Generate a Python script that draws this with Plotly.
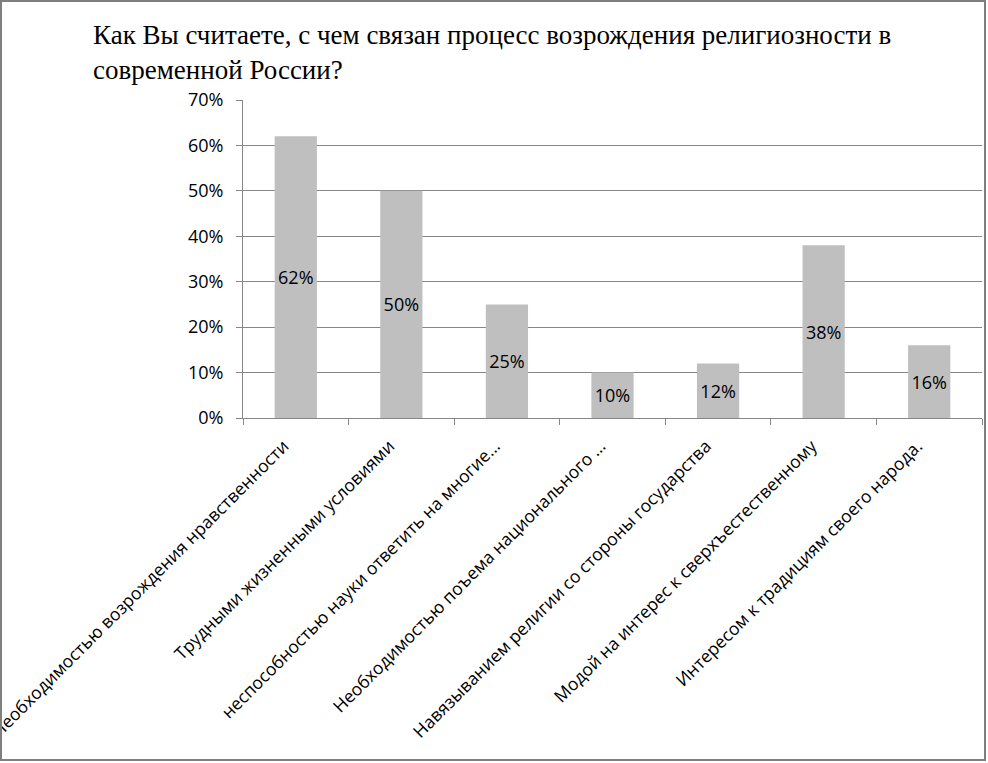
import plotly.graph_objects as go

categories = [
    'Необходимостью возрождения нравственности',
    'Трудными жизненными условиями',
    'неспособностью науки ответить на многие…',
    'Необходимостью поъема национального …',
    'Навязыванием религии со стороны государства',
    'Модой на интерес к сверхъестественному',
    'Интересом к традициям своего народа.',
]
values = [0.62, 0.50, 0.25, 0.10, 0.12, 0.38, 0.16]
labels = ['62%', '50%', '25%', '10%', '12%', '38%', '16%']
y_ticks = [0, 0.1, 0.2, 0.3, 0.4, 0.5, 0.6, 0.7]

W, H = 988, 763
ml, mr, mt, mb = 243, 6, 100, 345

fig = go.Figure(go.Bar(
    x=categories,
    y=values,
    text=labels,
    textposition='inside',
    insidetextanchor='middle',
    constraintext='none',
    textfont=dict(family='Open Sans', size=18, color='#000000'),
    marker=dict(color='#BFBFBF', line=dict(width=0)),
))

pw = W - ml - mr
ph = H - mt - mb
# рамка вокруг всей картинки
fig.add_shape(type='rect', xref='paper', yref='paper',
              x0=-(ml - 1) / pw, x1=1 + (mr - 3) / pw,
              y0=-(mb - 3) / ph, y1=1 + (mt - 1) / ph,
              line=dict(color='#7F7F7F', width=2))

fig.update_layout(
    width=W, height=H,
    margin=dict(l=ml, r=mr, t=mt, b=mb, autoexpand=False),
    plot_bgcolor='white', paper_bgcolor='white',
    bargap=0.6,
    showlegend=False,
    title=dict(
        text='Как Вы считаете, с чем связан процесс возрождения религиозности в<br>современной России?',
        font=dict(family='Liberation Serif', size=27, color='#000000'),
        xref='container', yref='container',
        x=93 / W, xanchor='left', y=1 - 44 / H, yanchor='top',
        pad=dict(l=0, t=0, r=0, b=0),
    ),
    xaxis=dict(
        automargin=False,
        tickangle=-45,
        tickfont=dict(family='Open Sans', size=17.5, color='#000000'),
        ticklabelstandoff=10, ticklabelshift=-12,
        showline=True, linecolor='#868686',
        ticks='outside', tickson='boundaries', ticklen=6, tickcolor='#868686',
        showgrid=False,
    ),
    yaxis=dict(
        automargin=False,
        range=[0, 0.7],
        tickvals=y_ticks,
        tickformat='.0%',
        tickfont=dict(family='Open Sans', size=18, color='#000000'),
        ticklabelstandoff=9,
        showline=True, linecolor='#868686',
        ticks='outside', ticklen=6, tickcolor='#868686',
        gridcolor='#868686', gridwidth=1,
        zeroline=False,
    ),
)

fig.write_html('out.html', config={'displayModeBar': False},
               post_script="document.body.style.margin='0';")
